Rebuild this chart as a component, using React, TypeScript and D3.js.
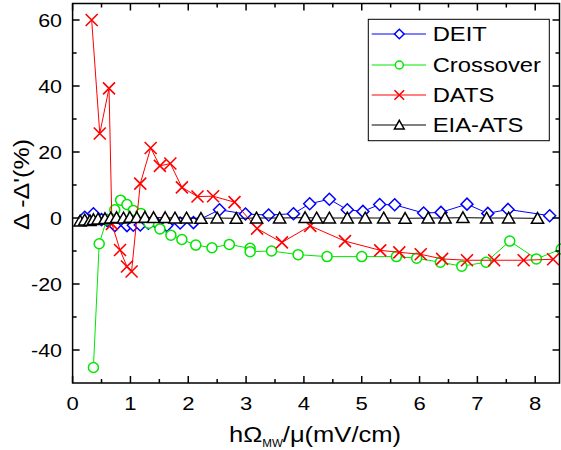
import React from 'react';
import * as d3 from 'd3';

// values
const deitX = [0.21, 0.36, 0.5, 0.6, 0.73, 0.94, 1.05, 1.17, 1.31, 1.45, 1.63, 1.86, 2.09, 2.54, 2.99, 3.39, 3.82, 4.1, 4.44, 4.75, 5.02, 5.31, 5.57, 6.07, 6.37, 6.82, 7.18, 7.53, 8.25];
const deitY = [0.2, 1.3, -0.5, -0.8, -2.3, -2.3, -2.2, -2.1, -1.6, -1.5, -2.3, -1.5, -1.4, 2.5, 1.2, 0.9, 1.3, 4.3, 5.7, 2.5, 2.0, 4.1, 4.0, 1.5, 1.7, 4.2, 1.4, 2.6, 0.7];

const crossX = [0.36, 0.46, 0.59, 0.73, 0.83, 0.94, 1.05, 1.18, 1.32, 1.51, 1.7, 1.89, 2.13, 2.41, 2.71, 3.07, 3.07, 3.44, 3.9, 4.4, 5.0, 5.6, 5.95, 6.36, 6.73, 7.15, 7.56, 8.02, 8.45];
const crossY = [-45.3, -7.8, -0.5, 2.5, 5.4, 4.1, 2.3, 1.4, -1.6, -3.3, -5.2, -6.5, -8.2, -9.0, -8.0, -9.2, -10.2, -10.0, -11.1, -11.7, -11.7, -11.7, -12.2, -13.4, -14.6, -13.4, -7.0, -12.4, -9.4];

const datsX = [0.33, 0.47, 0.63, 0.68, 0.82, 0.94, 1.02, 1.17, 1.35, 1.51, 1.69, 1.89, 2.16, 2.43, 2.8, 3.19, 3.62, 4.11, 4.71, 5.32, 5.65, 6.02, 6.39, 6.82, 7.29, 7.8, 8.31];
const datsY = [60, 25.6, 39.3, -1.8, -9.7, -14.7, -16.2, 10.4, 21.2, 15.8, 16.5, 9.3, 6.5, 6.6, 4.8, -3.2, -7.4, -2.4, -7.0, -9.8, -10.4, -11.0, -12.4, -12.8, -12.8, -12.8, -12.5];

const eiaX = [0.13, 0.21, 0.3, 0.36, 0.44, 0.56, 0.66, 0.76, 0.88, 0.99, 1.11, 1.25, 1.4, 1.6, 1.77, 1.97, 2.22, 2.5, 2.83, 3.18, 3.58, 4.02, 4.22, 4.44, 4.75, 5.06, 5.38, 5.75, 6.15, 6.44, 6.75, 7.16, 7.54, 8.04];
const eiaY = [-0.9, -0.6, -0.8, -0.5, -0.3, -0.2, 0, 0.1, 0, 0.2, 0.1, 0.2, 0.1, 0.1, 0, 0, -0.1, 0, -0.1, 0, 0, 0.1, 0, 0, 0, 0, 0, -0.1, 0, 0, 0.1, 0, 0, -0.1];

const seriesNames = ['DEIT', 'Crossover', 'DATS', 'EIA-ATS'];
const xTicks = [0, 1, 2, 3, 4, 5, 6, 7, 8];
const yTicks = [-40, -20, 0, 20, 40, 60];

const W = 561, H = 450;
const left = 72.6, right = 559.5, top = 3.5, bottom = 383;
const font = '"Liberation Sans", Arial, sans-serif';
const SX = 1.16; // the reference text is a bit wider than normal

function marker(kind, x, y, color, s = 1) {
  if (kind === 'diamond') {
    const r = 6 * s;
    return <path d={`M${x},${y - r}L${x + r},${y}L${x},${y + r}L${x - r},${y}Z`} fill="white" stroke={color} strokeWidth={1.5} />;
  }
  if (kind === 'circle') {
    return <circle cx={x} cy={y} r={5 * s} fill="white" stroke={color} strokeWidth={1.5} />;
  }
  if (kind === 'cross') {
    const r = 6 * s;
    return <path d={`M${x - r},${y - r}L${x + r},${y + r}M${x - r},${y + r}L${x + r},${y - r}`} stroke={color} strokeWidth={1.6} fill="none" />;
  }
  const r = 5.8 * s;
  return <path d={`M${x},${y - r}L${x + r * 1.05},${y + r * 0.85}L${x - r * 1.05},${y + r * 0.85}Z`} fill="white" stroke={color} strokeWidth={1.5} />;
}

export default function App() {
  const x = d3.scaleLinear().domain([0, 8.42]).range([left, right]);
  const y = d3.scaleLinear().domain([-50, 65]).range([bottom, top]);

  const series = [
    { name: seriesNames[0], xs: deitX, ys: deitY, color: '#0000ff', kind: 'diamond' },
    { name: seriesNames[1], xs: crossX, ys: crossY, color: '#00e600', kind: 'circle' },
    { name: seriesNames[2], xs: datsX, ys: datsY, color: '#ff0000', kind: 'cross' },
    { name: seriesNames[3], xs: eiaX, ys: eiaY, color: '#000000', kind: 'triangle' },
  ];

  const line = d3.line<number[]>()
    .x(d => d[0])
    .y(d => d[1]);

  const xMinor = d3.range(0.5, 8.42, 1);
  const yMinor = [-30, -10, 10, 30, 50];

  const legendRows = [34, 65, 95, 125];

  return (
    <svg width={W} height={H} style={{ position: 'absolute', left: 0, top: 0 }} fontFamily={font}>
      <rect width={W} height={H} fill="white" />

      {series.map(s => {
        const pts = s.xs.map((v, i) => [x(v), y(s.ys[i])]);
        return (
          <g key={s.name}>
            <path d={line(pts)} fill="none" stroke={s.color} strokeWidth={1} />
            {pts.map((p, i) => <g key={i}>{marker(s.kind, p[0], p[1], s.color)}</g>)}
          </g>
        );
      })}

      {/* frame and inward ticks on all sides */}
      <rect x={left} y={top} width={right - left} height={bottom - top} fill="none" stroke="black" strokeWidth={1.5} />
      {xTicks.map(t => (
        <g key={'xt' + t}>
          <line x1={x(t)} x2={x(t)} y1={bottom} y2={bottom - 7} stroke="black" strokeWidth={1.5} />
          <line x1={x(t)} x2={x(t)} y1={top} y2={top + 7} stroke="black" strokeWidth={1.5} />
          <text transform={`translate(${x(t)},410) scale(${SX},1)`} textAnchor="middle" fontSize={19}>{t}</text>
        </g>
      ))}
      {xMinor.map(t => (
        <g key={'xm' + t}>
          <line x1={x(t)} x2={x(t)} y1={bottom} y2={bottom - 4} stroke="black" strokeWidth={1.5} />
          <line x1={x(t)} x2={x(t)} y1={top} y2={top + 4} stroke="black" strokeWidth={1.5} />
        </g>
      ))}
      {yTicks.map(t => (
        <g key={'yt' + t}>
          <line x1={left} x2={left + 7} y1={y(t)} y2={y(t)} stroke="black" strokeWidth={1.5} />
          <line x1={right} x2={right - 7} y1={y(t)} y2={y(t)} stroke="black" strokeWidth={1.5} />
          <text transform={`translate(62,${y(t) + 6.5}) scale(${SX},1)`} textAnchor="end" fontSize={18.5}>{t}</text>
        </g>
      ))}
      {yMinor.map(t => (
        <g key={'ym' + t}>
          <line x1={left} x2={left + 4} y1={y(t)} y2={y(t)} stroke="black" strokeWidth={1.5} />
          <line x1={right} x2={right - 4} y1={y(t)} y2={y(t)} stroke="black" strokeWidth={1.5} />
        </g>
      ))}

      {/* axis titles */}
      <text transform={`translate(229,442) scale(${SX},1)`} fontSize={22}>
        hΩ<tspan fontSize={10} dy={5}>MW</tspan><tspan dy={-5}>/μ(mV/cm)</tspan>
      </text>
      <text transform="translate(29,184.5) rotate(-90)" textAnchor="middle" fontSize={22}
        textLength={91} lengthAdjust="spacingAndGlyphs">Δ -Δ'(%)</text>

      {/* legend */}
      <rect x={368.3} y={19.3} width={181} height={121.4} fill="white" stroke="black" strokeWidth={1} />
      {series.map((s, i) => (
        <g key={'lg' + s.name}>
          <line x1={371.7} x2={426} y1={legendRows[i]} y2={legendRows[i]} stroke={s.color} strokeWidth={1} />
          {marker(s.kind, 399.3, legendRows[i], s.color, 0.8)}
          <text transform={`translate(432.7,${legendRows[i] + 7.3}) scale(${SX},1)`} fontSize={20.5}>{s.name}</text>
        </g>
      ))}
    </svg>
  );
}
